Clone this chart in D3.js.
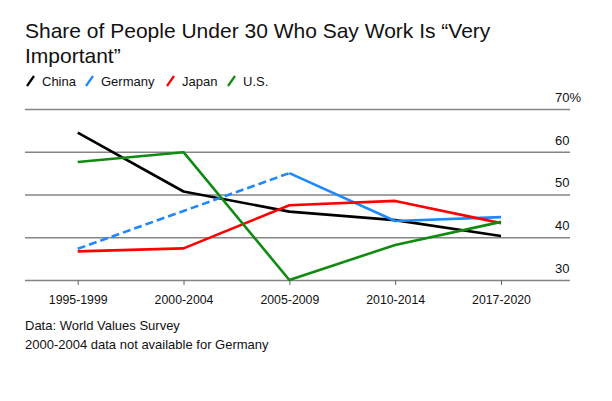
<!DOCTYPE html>
<html><head><meta charset="utf-8">
<script src="https://cdn.jsdelivr.net/npm/d3@7"></script>
<style>
html,body{margin:0;padding:0;background:#fff;}
svg text{font-family:"Liberation Sans",Arial,Helvetica,sans-serif;fill:#111;}
</style></head>
<body><svg id="c" width="612" height="401"></svg>
<script>
const periods = ["1995-1999","2000-2004","2005-2009","2010-2014","2017-2020"];
const china   = [64.5, 50.7, 46.0, 44.0, 40.3];
const germany = [37.3, null, 55.0, 43.8, 44.7];
const japan   = [36.7, 37.4, 47.5, 48.5, 43.3];
const us      = [57.6, 59.9, 30.0, 38.2, 43.6];
const seriesNames = ["China","Germany","Japan","U.S."];
const seriesColors = ["#000000","#1e88ff","#ff0000","#118a11"];
const yTicks = [30,40,50,60,70];
const title = ["Share of People Under 30 Who Say Work Is \u201cVery","Important\u201d"];
const notes = ["Data: World Values Survey","2000-2004 data not available for Germany"];

const svg = d3.select("#c");
const x = d3.scalePoint().domain(periods).range([77.7, 501]);
const y = d3.scaleLinear().domain([30,70]).range([280,109]);
const gridL = 25, gridR = 570;

// title
svg.append("text").attr("font-size",21)
  .selectAll("tspan").data(title).join("tspan")
  .attr("x",25).attr("y",(d,i)=>38+i*24.5).text(d=>d);

// legend
const legX = [26, 85, 166, 227];
const lg = svg.append("g");
seriesNames.forEach((n,i)=>{
  const g = lg.append("g").attr("transform",`translate(${legX[i]},81)`);
  g.append("line").attr("x1",1).attr("y1",5).attr("x2",8).attr("y2",-5)
    .attr("stroke",seriesColors[i]).attr("stroke-width",2.2);
  g.append("text").attr("x",16).attr("y",4.5).attr("font-size",13).text(n);
});

// grid
const yAxis = d3.axisRight(y).tickValues(yTicks).tickSize(gridR-gridL)
  .tickFormat(d=> d===70 ? "70%" : d);
const ga = svg.append("g").attr("transform",`translate(${gridL},0)`).call(yAxis);
ga.select(".domain").remove();
ga.selectAll(".tick line").attr("stroke","#858585").attr("stroke-width",1.5);
ga.selectAll(".tick text").attr("x",555-gridL).attr("dy",0).attr("y",-7.7)
  .attr("font-size",13).attr("fill","#111").attr("text-anchor","start")
  .style("font-family","Liberation Sans, Arial, sans-serif");

// x axis
const xAxis = d3.axisBottom(x).tickSize(5).tickPadding(0);
const gx = svg.append("g").attr("transform","translate(0,280)").call(xAxis);
gx.select(".domain").remove();
gx.selectAll(".tick line").attr("stroke","#666").attr("stroke-width",1);
gx.selectAll(".tick text").attr("font-size",12.3).attr("fill","#111")
  .attr("dy",0).attr("y",23.5)
  .style("font-family","Liberation Sans, Arial, sans-serif");

// lines
const allSeries = [china, germany, japan, us];
const line = d3.line().defined(d=>d[1]!==null).x(d=>x(d[0])).y(d=>y(d[1]));
allSeries.forEach((vals,i)=>{
  const pts = periods.map((p,j)=>[p, vals[j]]);
  const gap = vals.indexOf(null);
  if (gap > 0) {
    const gapPts = [pts[gap-1], pts[gap+1]];
    svg.append("path").attr("d", d3.line().x(d=>x(d[0])).y(d=>y(d[1]))(gapPts))
      .attr("fill","none").attr("stroke",seriesColors[i]).attr("stroke-width",2.6)
      .attr("stroke-dasharray","8,4");
  }
  svg.append("path").attr("d", line(pts))
    .attr("fill","none").attr("stroke",seriesColors[i]).attr("stroke-width",2.6)
    .attr("stroke-linejoin","round");
});

// notes
svg.selectAll(".note").data(notes).join("text").attr("class","note")
  .attr("x",25).attr("y",(d,i)=>329.5+i*19).attr("font-size",13).text(d=>d);
</script></body></html>
